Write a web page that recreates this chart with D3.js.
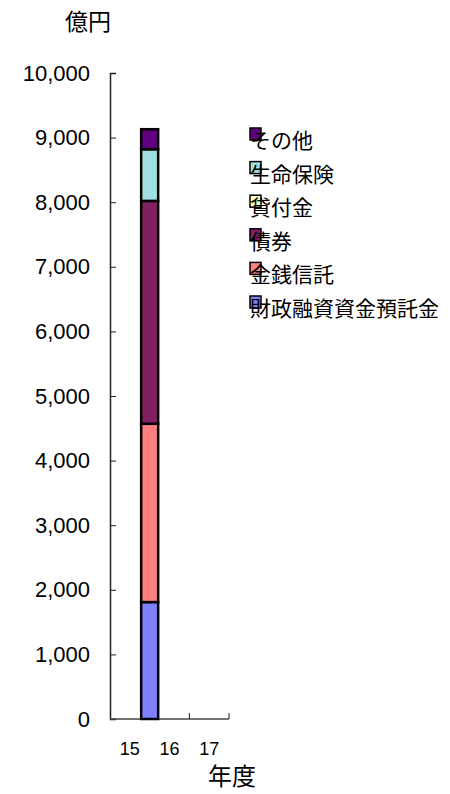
<!DOCTYPE html>
<html lang="ja">
<head>
  <meta charset="UTF-8">
  <title>資産構成</title>
  <script src="https://d3js.org/d3.v7.min.js"></script>
  <style>
    body {
      margin: 0;
      background: #fff;
      font-family: "Liberation Sans", Arial, "Noto Sans CJK JP", sans-serif;
    }
    .cjk {
      font-family: "Noto Sans CJK JP", sans-serif;
    }
  </style>
</head>
<body>
  <svg width="450" height="794"></svg>
  <script>
    // 年度
    const years = ["15", "16", "17"];
    // stacked bottom -> top
    const seriesNames = ["財政融資資金預託金", "金銭信託", "債券", "貸付金", "生命保険", "その他"];
    const seriesColors = ["#8080ff", "#ff8080", "#802060", "#ffffc0", "#a0e0e0", "#600080"];
    // 億円, one value per year (only 15 has data)
    const zaiseiYotaku = [1810, null, null];
    const kinsenShintaku = [2760, null, null];
    const saiken = [3450, null, null];
    const kashitsuke = [0, null, null];
    const seimeiHoken = [800, null, null];
    const sonota = [310, null, null];
    const yTicks = [0, 1000, 2000, 3000, 4000, 5000, 6000, 7000, 8000, 9000, 10000];

    const seriesValues = [zaiseiYotaku, kinsenShintaku, saiken, kashitsuke, seimeiHoken, sonota];

    const svg = d3.select("svg");
    const margin = { left: 110, right: 229, top: 73, bottom: 719 };

    const x = d3.scaleBand().domain(years).range([margin.left, margin.right]);
    const y = d3.scaleLinear().domain([0, 10000]).range([margin.bottom, margin.top]);

    const rows = years.map((yr, i) => {
      const r = { year: yr };
      seriesNames.forEach((s, j) => { r[s] = seriesValues[j][i] || 0; });
      return r;
    });
    const stacked = d3.stack().keys(seriesNames)(rows);

    // y axis, ticks pointing inward
    const yAxis = svg.append("g")
      .attr("transform", `translate(${margin.left},0)`)
      .call(d3.axisLeft(y).tickValues(yTicks).tickSize(-6).tickPadding(20)
        .tickFormat(d3.format(",")));
    yAxis.select(".domain").attr("stroke", "#222").attr("stroke-width", 1.5);
    yAxis.selectAll(".tick line").attr("stroke", "#222");
    yAxis.selectAll(".tick text").attr("font-size", 22).attr("fill", "#000")
      .attr("font-family", "'Liberation Sans', Arial, sans-serif");

    // x axis: ticks on band boundaries, labels centred in bands
    const xg = svg.append("g");
    xg.append("line")
      .attr("x1", margin.left).attr("x2", margin.right)
      .attr("y1", margin.bottom).attr("y2", margin.bottom)
      .attr("stroke", "#444").attr("stroke-width", 1.5);
    xg.selectAll(".xt")
      .data(years)
      .join("line")
      .attr("class", "xt")
      .attr("x1", d => x(d) + x.bandwidth())
      .attr("x2", d => x(d) + x.bandwidth())
      .attr("y1", margin.bottom).attr("y2", margin.bottom - 6)
      .attr("stroke", "#222");
    xg.selectAll("text")
      .data(years)
      .join("text")
      .attr("x", d => x(d) + x.bandwidth() / 2)
      .attr("y", 755)
      .attr("text-anchor", "middle")
      .attr("font-size", 18)
      .text(d => d);

    // bars sit on the band boundary, as in the original
    const barW = 17;
    svg.append("g")
      .selectAll("g")
      .data(stacked)
      .join("g")
      .attr("fill", (d, i) => seriesColors[i])
      .selectAll("rect")
      .data(d => d.filter(p => p[1] > p[0]))
      .join("rect")
      .attr("x", d => x(d.data.year) + x.bandwidth() - barW / 2)
      .attr("y", d => y(d[1]))
      .attr("width", barW)
      .attr("height", d => y(d[0]) - y(d[1]))
      .attr("stroke", "#000")
      .attr("stroke-width", 2.5);

    // legend, top entry = top of stack
    const legend = svg.append("g").attr("transform", "translate(250,140)");
    const order = seriesNames.slice().reverse();
    const item = legend.selectAll("g")
      .data(order)
      .join("g")
      .attr("transform", (d, i) => `translate(0,${i * 33.6})`);
    item.append("rect")
      .attr("x", 0).attr("y", -12)
      .attr("width", 11).attr("height", 12)
      .attr("fill", d => seriesColors[seriesNames.indexOf(d)])
      .attr("stroke", "#000").attr("stroke-width", 1.5);
    item.append("text")
      .attr("class", "cjk")
      .attr("x", 0)
      .attr("y", 8)
      .attr("font-size", 21)
      .text(d => d);

    svg.append("text")
      .attr("class", "cjk")
      .attr("x", 88).attr("y", 30)
      .attr("text-anchor", "middle")
      .attr("font-size", 23)
      .text("億円");

    svg.append("text")
      .attr("class", "cjk")
      .attr("x", 232).attr("y", 785)
      .attr("text-anchor", "middle")
      .attr("font-size", 24)
      .text("年度");
  </script>
</body>
</html>
